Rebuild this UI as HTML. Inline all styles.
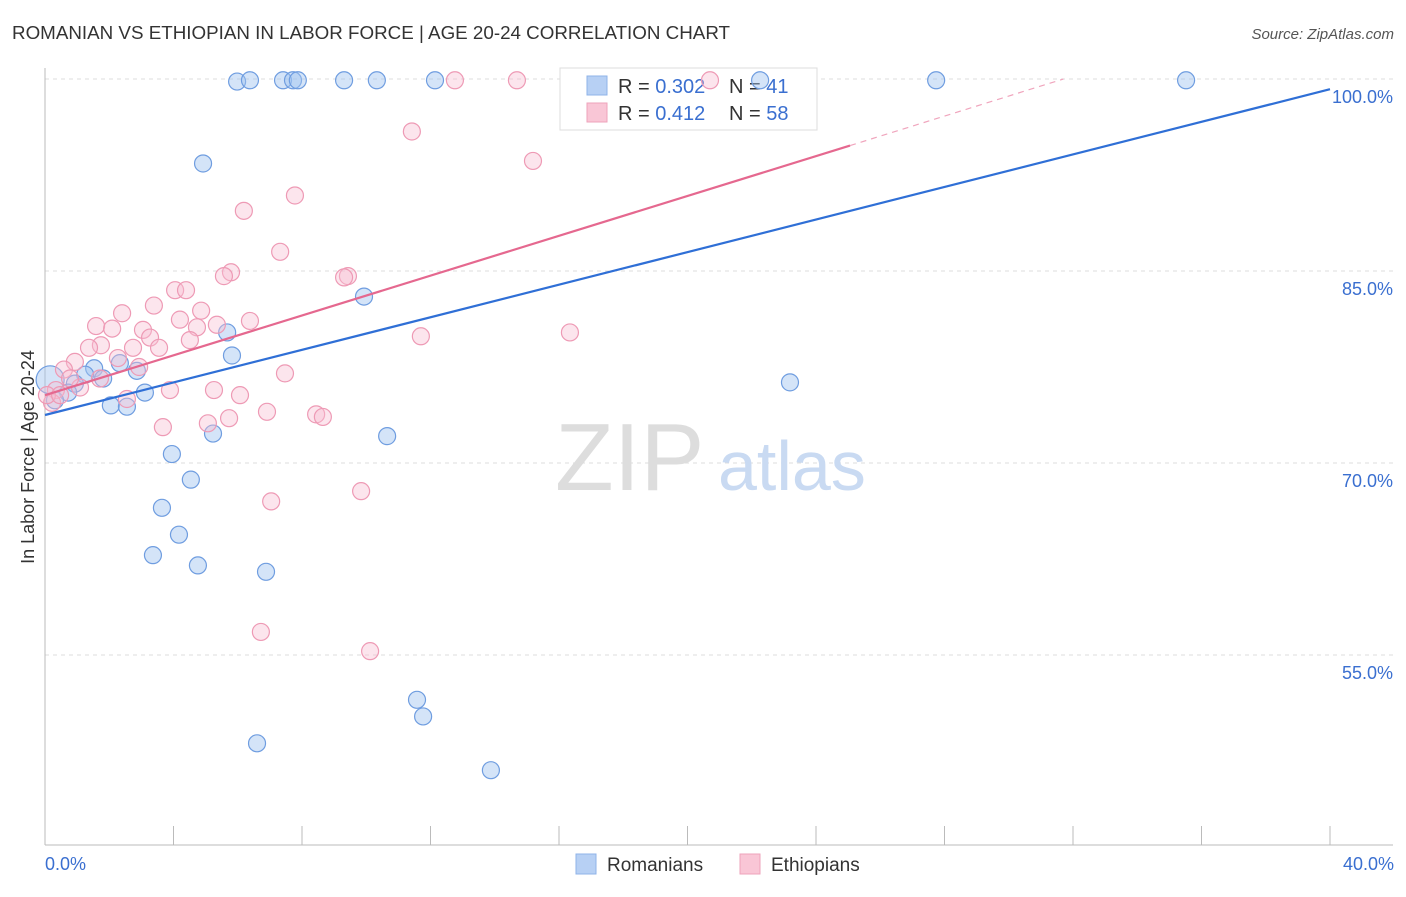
<!DOCTYPE html>
<html><head><meta charset="utf-8"><style>
body{margin:0;background:#fff;font-family:"Liberation Sans",sans-serif;}
svg text{font-family:"Liberation Sans",sans-serif;}
</style></head><body>
<svg id="chart" width="1406" height="892">
<text x="12" y="39" font-size="18.8" fill="#333">ROMANIAN VS ETHIOPIAN IN LABOR FORCE | AGE 20-24 CORRELATION CHART</text>
<text x="1394" y="39" font-size="15" fill="#555" font-style="italic" text-anchor="end">Source: ZipAtlas.com</text>
<g id="grid"></g>
<text x="555" y="490" font-size="96" fill="#ddd" font-family="Liberation Serif">ZIP</text>
<text x="718" y="490" font-size="70" fill="#c9daf2">atlas</text>
<text transform="translate(34,457) rotate(-90)" font-size="18" fill="#333" text-anchor="middle">In Labor Force | Age 20-24</text>
<g>
<rect x="560" y="68" width="257" height="62" fill="#fff" stroke="#ddd"/>
<rect x="587" y="76" width="20" height="19" fill="#b7d0f4" stroke="#8fb3e8"/>
<rect x="587" y="103" width="20" height="19" fill="#f9c6d6" stroke="#eea3bb"/>
<text x="618" y="93" font-size="20" fill="#333">R = <tspan fill="#3a6fd0">0.302</tspan></text>
<text x="729" y="93" font-size="20" fill="#333">N = <tspan fill="#3a6fd0"> 41</tspan></text>
<text x="618" y="120" font-size="20" fill="#333">R = <tspan fill="#3a6fd0"> 0.412</tspan></text>
<text x="729" y="120" font-size="20" fill="#333">N = <tspan fill="#3a6fd0">58</tspan></text>
</g>
<g id="marks"></g>
<g>
<rect x="576" y="854" width="20" height="20" fill="#b7d0f4" stroke="#8fb3e8"/>
<text x="607" y="871" font-size="19" fill="#333">Romanians</text>
<rect x="740" y="854" width="20" height="20" fill="#f9c6d6" stroke="#eea3bb"/>
<text x="771" y="871" font-size="19" fill="#333">Ethiopians</text>
</g>
</svg>
<script>
const yTicks=[100,85,70,55];
const xTickLabels=["0.0%","40.0%"];
const blueX=[5.98,6.38,7.41,7.72,7.87,9.31,10.33,12.14,22.26,27.74,35.52,4.92,9.93,5.67,5.82,2.86,2.33,1.53,1.25,1.81,0.93,0.72,0.31,3.11,2.05,2.55,23.19,10.65,5.23,3.95,4.54,3.64,4.17,3.36,4.76,6.88,11.58,11.77,6.60,13.88,0.16];
const blueY=[99.8,99.9,99.9,99.9,99.9,99.9,99.9,99.9,99.9,99.9,99.9,93.4,83.0,80.2,78.4,77.2,77.8,77.4,76.9,76.6,76.2,75.5,74.9,75.5,74.5,74.4,76.3,72.1,72.3,70.7,68.7,66.5,64.4,62.8,62.0,61.5,51.5,50.2,48.1,46.0,76.5];
const pinkX=[12.76,14.69,20.70,11.42,15.19,7.78,6.19,7.32,5.79,5.57,9.43,9.31,4.05,4.39,3.39,4.86,2.40,4.20,6.38,1.59,2.09,5.35,4.73,3.05,3.27,4.51,11.70,16.34,1.74,1.37,3.55,2.74,0.93,2.27,0.59,2.93,7.47,1.09,0.34,3.89,5.26,6.07,2.55,0.22,8.44,8.65,6.91,5.73,5.07,3.67,7.04,9.84,6.72,10.12,0.06,0.47,1.71,0.78];
const pinkY=[99.9,99.9,99.9,95.9,93.6,90.9,89.7,86.5,84.9,84.6,84.6,84.5,83.5,83.5,82.3,81.9,81.7,81.2,81.1,80.7,80.5,80.8,80.6,80.4,79.8,79.6,79.9,80.2,79.2,79.0,79.0,79.0,77.9,78.2,77.3,77.5,77.0,75.9,75.7,75.7,75.7,75.3,75.0,74.7,73.8,73.6,74.0,73.5,73.1,72.8,67.0,67.8,56.8,55.3,75.3,75.3,76.6,76.6];
const blueTrend=[73.75,99.2];
const pinkTrend=[75.3,94.8,100];
const pinkTrendX=[0,25.06,31.7];
const X=v=>45+v*32.125, Y=v=>79+(100-v)*12.8;
const NS="http://www.w3.org/2000/svg";
const grid=document.getElementById('grid'), marks=document.getElementById('marks');
function mk(tag,at,parent){const e=document.createElementNS(NS,tag);for(const k in at)e.setAttribute(k,at[k]);parent.appendChild(e);return e;}
yTicks.forEach(t=>{
 const l=mk('line',{x1:45,x2:1393,y1:Y(t),y2:Y(t),stroke:'#ddd','stroke-dasharray':'4,4'},grid);
 
 
 const tx=mk('text',{x:1393,y:Y(t)+24,'font-size':18,fill:'#3a6fd0','text-anchor':'end'},grid);
 tx.textContent=t.toFixed(1)+'%';
 
 
});
const ax=mk('line',{x1:45,x2:1393,y1:845,y2:845,stroke:'#bbb'},grid);


const ay=mk('line',{x1:45,x2:45,y1:68,y2:845,stroke:'#bbb'},grid);


for(let i=0;i<=40;i+=4){const t=mk('line',{x1:X(i),x2:X(i),y1:826,y2:845,stroke:'#bbb'},grid);
 
 }
[[0,'start',45],[40,'end',1394]].forEach((d,i)=>{const t=mk('text',{x:d[2],y:870,'font-size':18,fill:'#3a6fd0','text-anchor':d[1]},grid);t.textContent=xTickLabels[i];
 
 });
blueX.forEach((x,i)=>{const c=mk('circle',{cx:X(x),cy:Y(blueY[i]),r:i==40?14:8.5,fill:'rgba(160,195,240,0.45)',stroke:'#6f9de0','stroke-width':1.2},marks);
 
 });
pinkX.forEach((x,i)=>{const c=mk('circle',{cx:X(x),cy:Y(pinkY[i]),r:8.5,fill:'rgba(248,190,210,0.4)',stroke:'#ee9ab5','stroke-width':1.2},marks);
 
 });
const bl=mk('line',{x1:X(0),y1:Y(blueTrend[0]),x2:X(40),y2:Y(blueTrend[1]),stroke:'#2f6fd6','stroke-width':2.2},marks);


const pl=mk('line',{x1:X(pinkTrendX[0]),y1:Y(pinkTrend[0]),x2:X(pinkTrendX[1]),y2:Y(pinkTrend[1]),stroke:'#e5688f','stroke-width':2.2},marks);


const pd=mk('line',{x1:X(pinkTrendX[1]),y1:Y(pinkTrend[1]),x2:X(pinkTrendX[2]),y2:Y(pinkTrend[2]),stroke:'#f0a5bd','stroke-width':1.2,'stroke-dasharray':'6,5'},marks);


</script>
</body></html>
